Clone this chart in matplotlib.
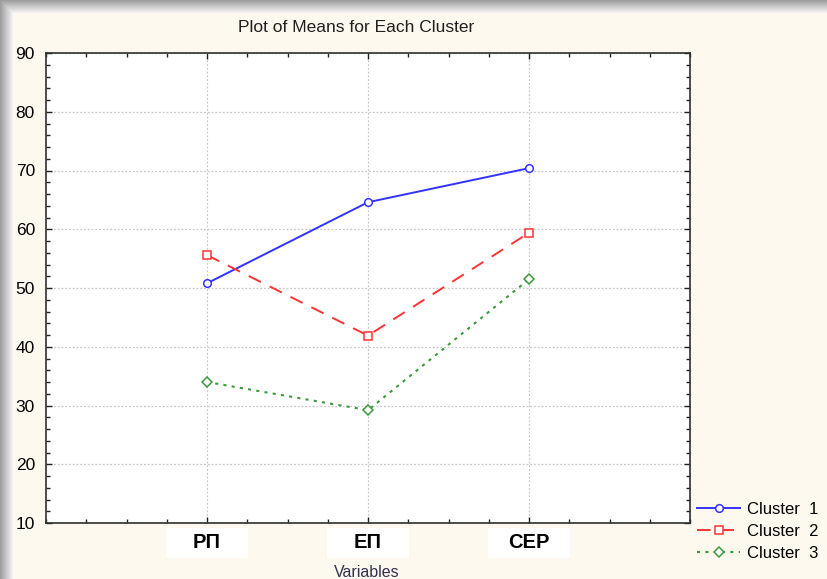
import numpy as np
from matplotlib import pyplot as plt
from matplotlib.patches import Rectangle
from matplotlib.ticker import MultipleLocator
import matplotlib.transforms as mtrans

# data
variables = ['РП', 'ЕП', 'СЕР']
cluster1 = [50.8, 64.6, 70.4]
cluster2 = [55.6, 41.9, 59.4]
cluster3 = [34.0, 29.2, 51.5]
clusterNames = ['Cluster  1', 'Cluster  2', 'Cluster  3']

narrow = ['Liberation Sans Narrow', 'Liberation Sans', 'DejaVu Sans']
plt.rcParams['font.family'] = ['Liberation Sans', 'DejaVu Sans']

W, H = 827, 579
fig = plt.figure(figsize=(W / 100, H / 100), dpi=100)

# background with grey shadow on top and left edges
bg = fig.add_axes([0, 0, 1, 1])
img = np.ones((H, W, 3)) * np.array([253, 249, 238]) / 255.
shadow = 13
for i in range(shadow):
    g = 0.62 + 0.36 * i / shadow
    img[i, i:, :] = g
    img[i:, i, :] = g
bg.imshow(img, aspect='auto', extent=(0, W, H, 0))
bg.set_xlim(0, W)
bg.set_ylim(H, 0)
bg.axis('off')

# main axes
left, right, top, bottom = 46, 690, 53, 523
ax = fig.add_axes([left / W, 1 - bottom / H, (right - left) / W, (bottom - top) / H])
ax.set_facecolor('white')

x = np.arange(1, len(variables) + 1)
ax.plot(x, cluster1, color='#3333ff', lw=1.4, marker='o', ms=5.5,
        mfc='white', mec='#3333ff', mew=1.1, label=clusterNames[0], zorder=3)
ax.plot(x, cluster2, color='#ff3333', lw=1.4, ls=(0, (7, 5)), marker='s', ms=5.5,
        mfc='white', mec='#ff3333', mew=1.1, label=clusterNames[1], zorder=3)
ax.plot(x, cluster3, color='#3c9a3c', lw=1.5, ls=(0, (1.5, 2.5)), marker='D', ms=5,
        mfc='white', mec='#3c9a3c', mew=1.1, label=clusterNames[2], zorder=3)

ax.set_xlim(0, 4)
ax.set_ylim(10, 90)
ax.set_xticks(x)
ax.set_xticklabels([])
ax.xaxis.set_minor_locator(MultipleLocator(0.25))
ax.yaxis.set_major_locator(MultipleLocator(10))
ax.yaxis.set_minor_locator(MultipleLocator(2))
ax.tick_params(which='both', direction='in', top=True, right=True,
               color='#202020', width=1)
ax.tick_params(which='major', length=4, labelsize=12.5, pad=8)
ax.tick_params(which='minor', length=3)
for lab in ax.get_yticklabels():
    lab.set_family(narrow)
ax.grid(True, which='major', color='#c8c8c8', ls=(0, (1.5, 1.5)), lw=0.9)
for s in ax.spines.values():
    s.set_color('#303030')
    s.set_linewidth(1.2)

# x labels in white boxes
trans = mtrans.blended_transform_factory(ax.transData, ax.transAxes)
boxH = 30 / (bottom - top)
for xi, name in zip(x, variables):
    ax.add_patch(Rectangle((xi - 0.255, -(5 + 30) / (bottom - top)), 0.51, boxH,
                           transform=trans, facecolor='white', edgecolor='none',
                           clip_on=False))
    ax.text(xi, -(5 + 15) / (bottom - top), name, transform=trans, ha='center',
            va='center', fontsize=14.5, fontweight='bold', color='black',
            family=['Liberation Sans', 'DejaVu Sans'])

fig.text(356 / W, 1 - 28 / H, 'Plot of Means for Each Cluster', ha='center',
         va='center', fontsize=12.5, family=narrow, color='#202020')
fig.text(367 / W, 1 - 565 / H, 'Variables', ha='center', va='top',
         fontsize=11.5, family=['Liberation Sans', 'DejaVu Sans'], color='#303050')

fig.legend(loc='upper left', bbox_to_anchor=(697 / W, 1 - 502 / H), frameon=False,
           fontsize=12, handlelength=2.6, handletextpad=0.4, labelspacing=0.42,
           borderpad=0, borderaxespad=0)

fig.savefig('out.png', dpi=100)
